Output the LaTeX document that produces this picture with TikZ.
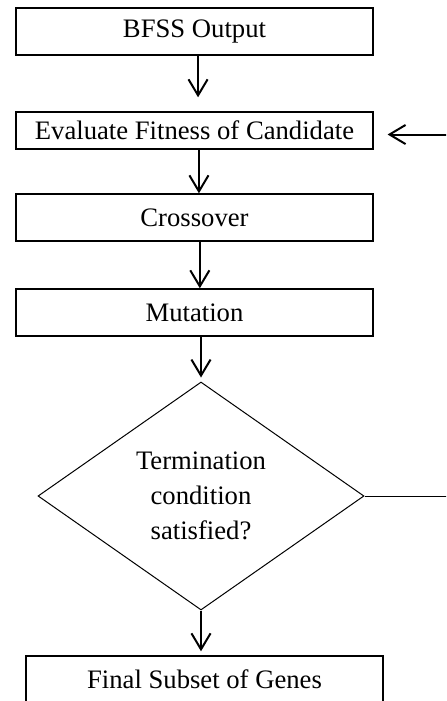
\documentclass[tikz,border=0pt]{standalone}
\usepackage{fontspec}
\setmainfont{Liberation Serif}
\usetikzlibrary{arrows.meta, positioning, calc, shapes.geometric}

\begin{document}
\begin{tikzpicture}[
  x=0.45pt, y=-0.45pt,
  >={Straight Barb[length=7.2pt, width=8.6pt]},
  stage/.style={draw, line width=0.6pt, minimum width=160.6pt, minimum height=21.2pt,
    inner sep=0pt, font=\fontsize{12}{14}\selectfont},
  check/.style={draw, diamond, line width=0.45pt, minimum width=146.7pt, minimum height=102.6pt,
    aspect=1.43, align=center, inner sep=0pt, font=\fontsize{12}{15.75}\selectfont},
  flow/.style={->, line width=0.9pt}
]
\clip (0,0) rectangle (446,701);
\node[stage] (bfss) at (194.5,31.5) {BFSS Output};
\node[stage, minimum height=16.7pt] (fitness) at (194.5,130.5) {Evaluate Fitness of Candidate};
\node[stage] (cross) at (194.5,217.5) {Crossover};
\node[stage] (mutate) at (194.5,312.5) {Mutation};
\node[check] (term) at (201,496) {Termination\\condition\\satisfied?};
\node[stage] (final) at (204.5,679.5) {Final Subset of Genes};
\coordinate (loop) at (470,496);

\draw[flow, shorten >=6.3pt] ([xshift=1.6pt]bfss.south) -- ([xshift=1.6pt]fitness.north);
\draw[flow] ([xshift=2pt]fitness.south) -- ([xshift=2pt]cross.north);
\draw[flow] ([xshift=2.4pt]cross.south) -- ([xshift=2.4pt]mutate.north);
\draw[flow, shorten >=1.8pt] (mutate.south -| term.north) -- (term.north);
\draw[flow, shorten >=1.8pt] (term.south) -- (term.south |- final.north);
% back to the fitness step
\draw[line width=0.45pt] (term.east) -- (loop);
\draw[flow, shorten >=6.3pt] (loop) |- ([yshift=-1.8pt]fitness.east);
\end{tikzpicture}
\end{document}
